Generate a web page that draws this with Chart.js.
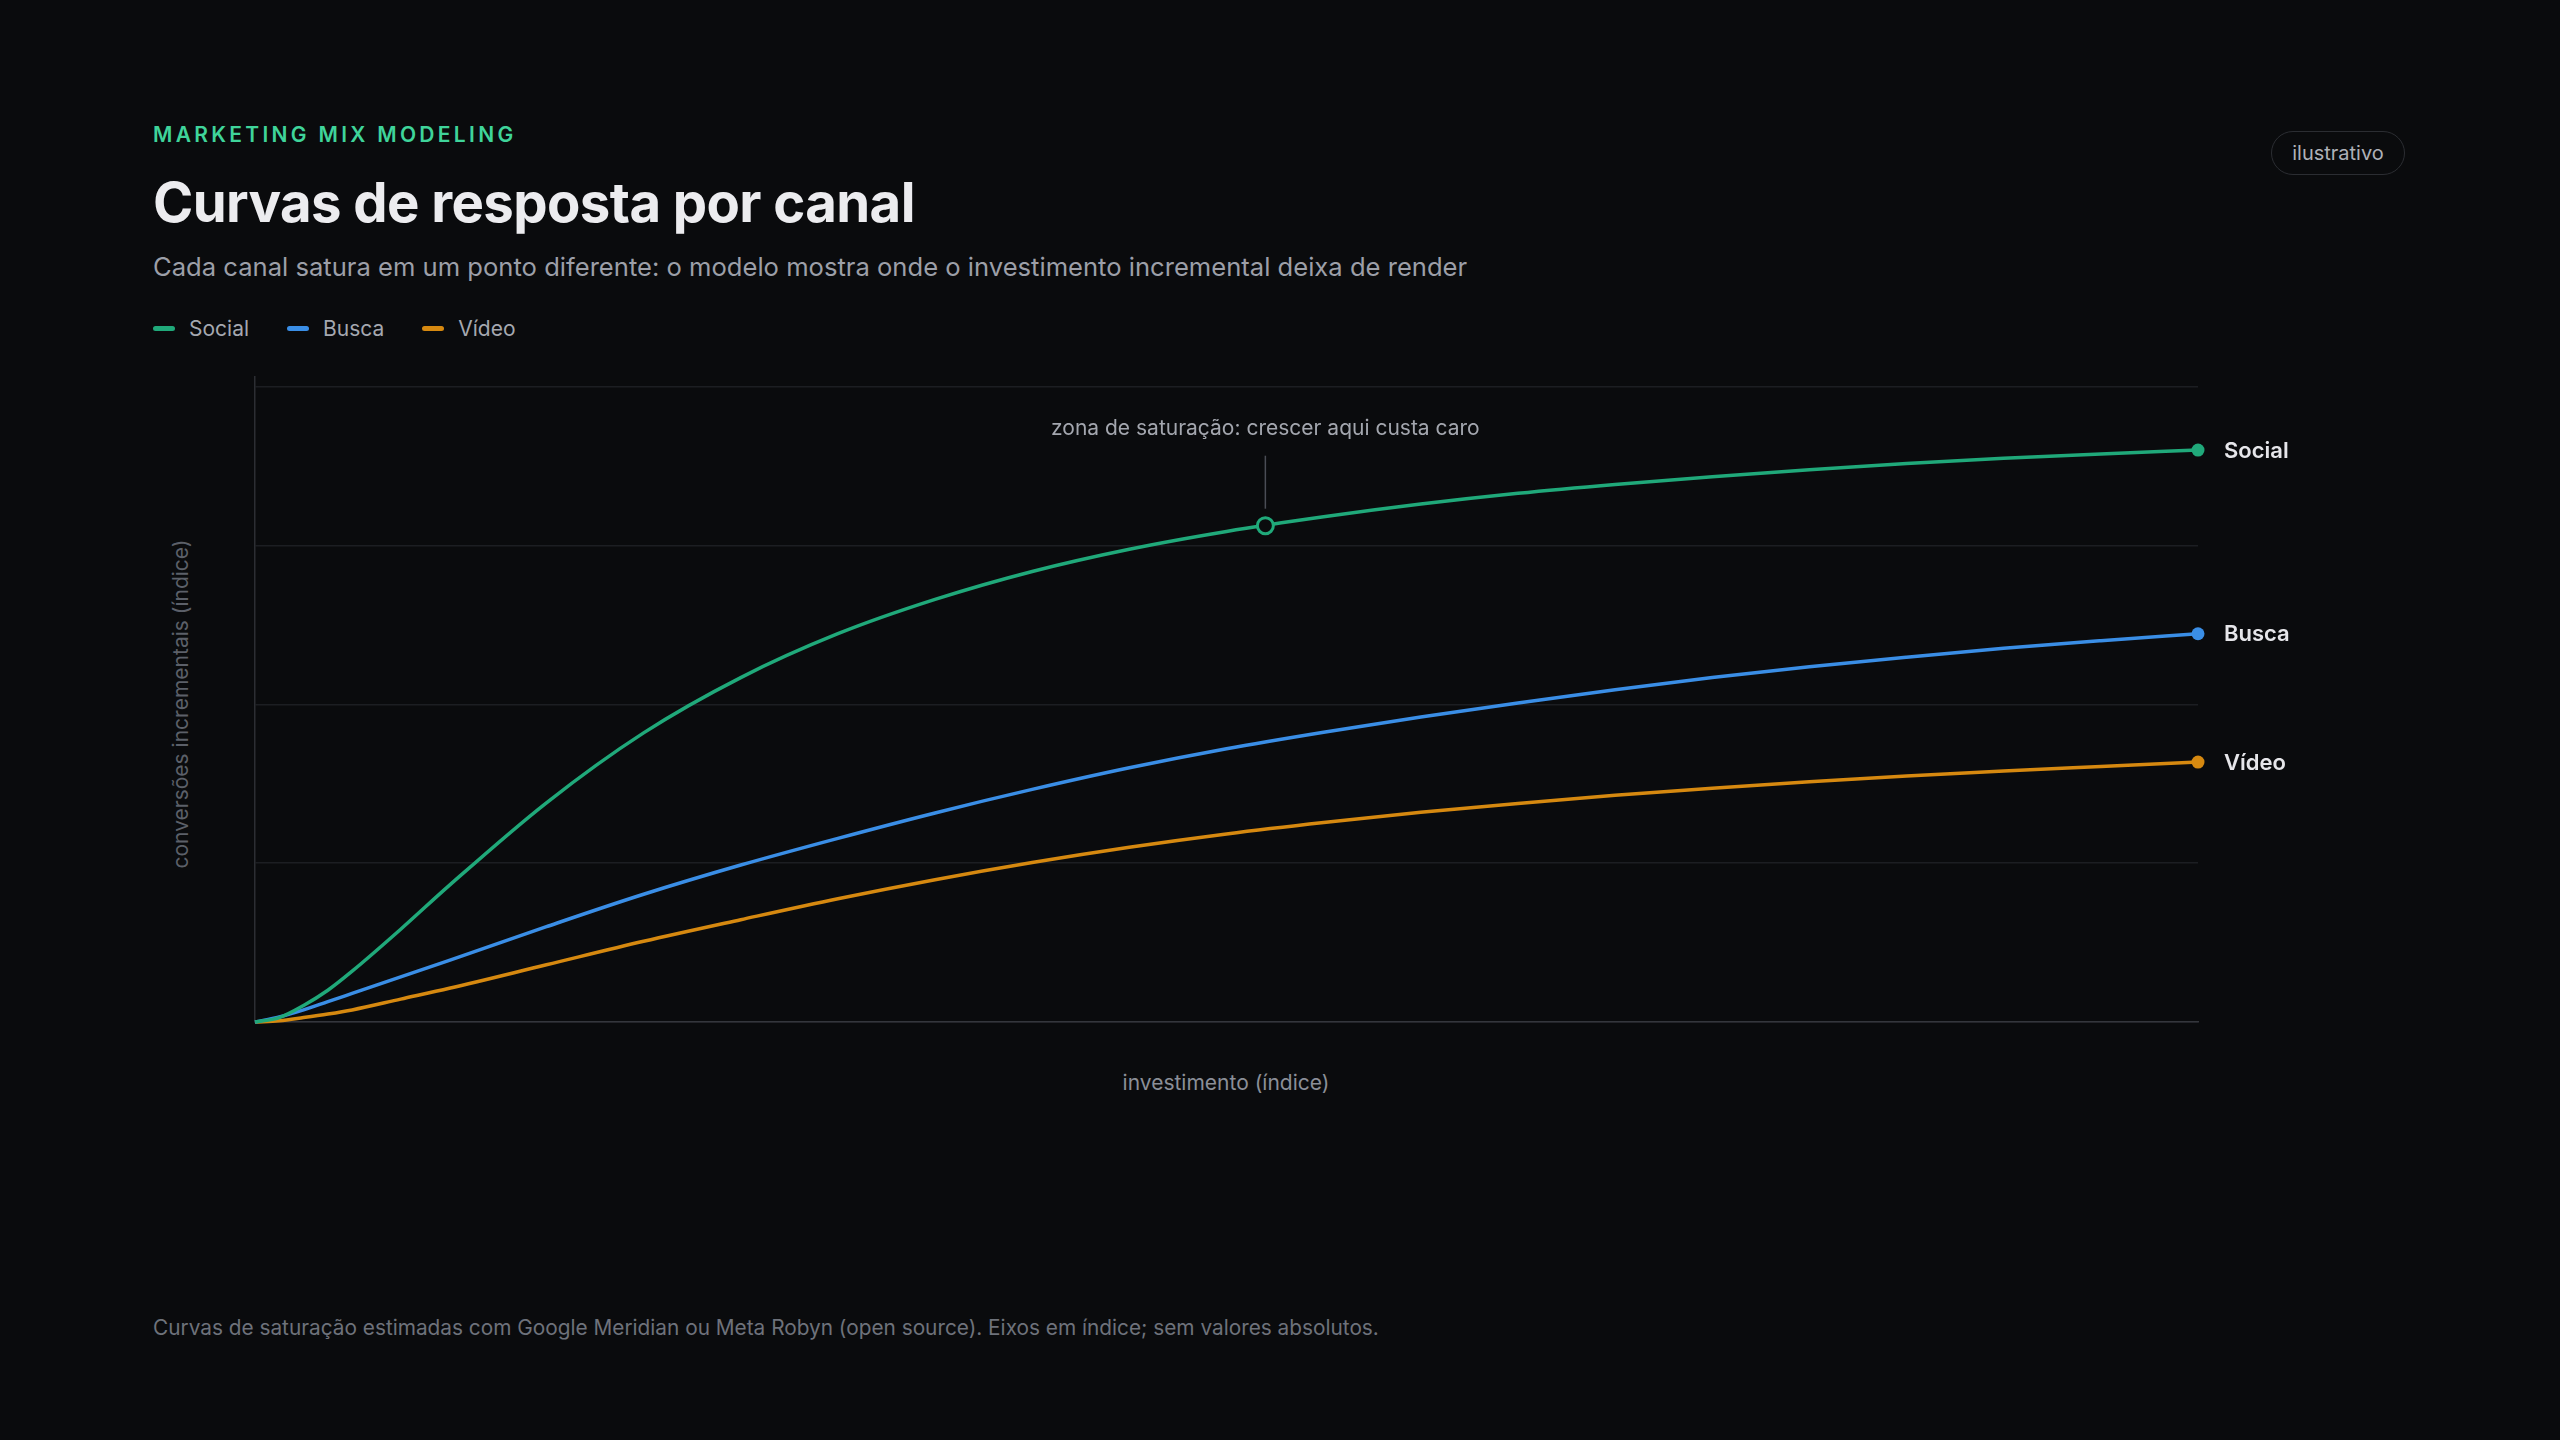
<!DOCTYPE html>
<html lang="pt-BR">
<head>
<meta charset="utf-8">
<title>Curvas de resposta por canal</title>
<script src="https://cdn.jsdelivr.net/npm/chart.js@4.4.1/dist/chart.umd.min.js"></script>
<style>
  html, body { margin: 0; padding: 0; background: #0a0b0d; }
  body { width: 2560px; height: 1440px; position: relative; overflow: hidden; font-family: Inter, "Noto Sans", sans-serif; }
  .t { position: absolute; white-space: nowrap; line-height: 1; }
  #kicker { left: 153px; top: 124px; font-size: 21px; font-weight: 600; letter-spacing: 3.3px; color: #3fd49a; }
  #title { left: 153px; top: 175px; font-size: 54.5px; font-weight: 700; letter-spacing: -0.6px; color: #ececef; }
  #sub { left: 153px; top: 254px; font-size: 25.6px; color: #9c9fa8; }
  #legend { position: absolute; left: 153px; top: 318px; display: flex; font-size: 21px; color: #a5a8b0; line-height: 1; }
  #legend span.item { display: flex; align-items: center; margin-right: 38px; }
  #legend i { display: inline-block; width: 22px; height: 5px; border-radius: 3px; margin-right: 14px; }
  #pill { position: absolute; left: 2271px; top: 131px; width: 132px; height: 42px; border: 1.5px solid #2b2d32; border-radius: 23px;
          font-size: 20px; color: #aeb1b8; display: flex; align-items: center; justify-content: center; }
  #ytitle { left: 180px; top: 704px; font-size: 21px; color: #5c6069; transform: translate(-50%, -50%) rotate(-90deg); }
  #xtitle { left: 1226px; top: 1072px; font-size: 21px; color: #8b8f98; transform: translateX(-50%); }
  #foot { left: 153px; top: 1318px; font-size: 20.8px; color: #6e727b; }
  #wrap { position: absolute; left: 0; top: 0; width: 2560px; height: 1440px; }
</style>
</head>
<body>
<div class="t" id="kicker">MARKETING MIX MODELING</div>
<div class="t" id="title">Curvas de resposta por canal</div>
<div class="t" id="sub">Cada canal satura em um ponto diferente: o modelo mostra onde o investimento incremental deixa de render</div>
<div id="legend">
  <span class="item"><i style="background:#20a97a"></i>Social</span>
  <span class="item"><i style="background:#3a8ee6"></i>Busca</span>
  <span class="item"><i style="background:#d68910"></i>Vídeo</span>
</div>
<div id="pill">ilustrativo</div>
<div class="t" id="ytitle">conversões incrementais (índice)</div>
<div class="t" id="xtitle">investimento (índice)</div>
<div class="t" id="foot">Curvas de saturação estimadas com Google Meridian ou Meta Robyn (open source). Eixos em índice; sem valores absolutos.</div>
<div id="wrap"><canvas id="chart"></canvas></div>

<script>
// investimento (índice) 0..100
const spend = [0, 1.25, 2.5, 3.75, 5, 7.5, 10, 15, 20, 25, 30, 35, 40, 45, 50, 55, 60, 65, 70, 75, 80, 85, 90, 95, 100];

// conversões incrementais (índice)
const social = [0, 0.007, 0.026, 0.050, 0.080, 0.146, 0.215, 0.345, 0.455, 0.542, 0.611, 0.665, 0.709, 0.744, 0.772, 0.795, 0.815, 0.832, 0.846, 0.858, 0.869, 0.879, 0.887, 0.894, 0.900];
const busca  = [0, 0.008, 0.019, 0.032, 0.045, 0.071, 0.097, 0.150, 0.201, 0.247, 0.289, 0.329, 0.366, 0.400, 0.430, 0.456, 0.480, 0.502, 0.523, 0.542, 0.559, 0.574, 0.588, 0.600, 0.611];
const video  = [0, 0.002, 0.007, 0.0125, 0.019, 0.036, 0.053, 0.090, 0.127, 0.161, 0.194, 0.224, 0.251, 0.275, 0.296, 0.314, 0.330, 0.344, 0.357, 0.368, 0.378, 0.387, 0.395, 0.402, 0.409];

const channels = ['Social', 'Busca', 'Vídeo'];
const colors = ['#20a97a', '#3a8ee6', '#d68910'];

// ponto da anotação (zona de saturação)
const satX = 52;
const satY = 0.781;
const satLabel = 'zona de saturação: crescer aqui custa caro';

const yTicks = [0, 0.25, 0.5, 0.75, 1];
const BG = '#0a0b0d';

function toPoints(ys) {
  return spend.map((x, i) => ({ x: x, y: ys[i] }));
}

function lineSet(label, ys, color) {
  return {
    label: label,
    data: toPoints(ys),
    borderColor: color,
    backgroundColor: color,
    borderWidth: 3.5,
    cubicInterpolationMode: 'monotone',
    pointRadius: ctx => ctx.dataIndex === spend.length - 1 ? 6.5 : 0,
    pointBorderWidth: 0,
    pointHoverRadius: 0,
    fill: false,
    clip: false,
    order: 2
  };
}

const endLabels = {
  id: 'endLabels',
  afterDatasetsDraw(chart) {
    const ctx = chart.ctx;
    ctx.save();
    // rótulos no fim de cada curva
    ctx.font = '600 22px Inter, "Noto Sans", sans-serif';
    ctx.fillStyle = '#e6e6ea';
    ctx.textBaseline = 'middle';
    ctx.textAlign = 'left';
    for (let d = 0; d < 3; d++) {
      const pts = chart.getDatasetMeta(d + 1).data;
      const p = pts[pts.length - 1];
      ctx.fillText(channels[d], p.x + 26, p.y + 1);
    }
    // anotação
    const m = chart.getDatasetMeta(0).data[0];
    ctx.strokeStyle = '#4a4d55';
    ctx.lineWidth = 1.5;
    ctx.beginPath();
    ctx.moveTo(m.x, m.y - 17);
    ctx.lineTo(m.x, m.y - 70);
    ctx.stroke();
    ctx.font = '400 21px Inter, "Noto Sans", sans-serif';
    ctx.fillStyle = '#a3a6ae';
    ctx.textAlign = 'center';
    ctx.fillText(satLabel, m.x, m.y - 97);
    ctx.restore();
  }
};

new Chart(document.getElementById('chart').getContext('2d'), {
  type: 'line',
  data: {
    datasets: [
      {
        label: 'saturação',
        data: [{ x: satX, y: satY }],
        showLine: false,
        pointRadius: 8,
        pointBorderWidth: 3,
        pointBorderColor: colors[0],
        pointBackgroundColor: BG,
        pointHoverRadius: 0,
        clip: false,
        order: 0
      },
      lineSet(channels[0], social, colors[0]),
      lineSet(channels[1], busca, colors[1]),
      lineSet(channels[2], video, colors[2])
    ]
  },
  options: {
    responsive: true,
    maintainAspectRatio: false,
    animation: false,
    events: [],
    layout: { padding: { left: 255, right: 362, top: 377, bottom: 418 } },
    plugins: { legend: { display: false }, tooltip: { enabled: false } },
    scales: {
      x: {
        type: 'linear',
        min: 0,
        max: 100,
        ticks: { display: false },
        grid: { display: false, drawTicks: false },
        border: { display: true, color: '#34363c', width: 1.5 },
        title: { display: false }
      },
      y: {
        min: 0,
        max: 1.015,
        afterBuildTicks: scale => { scale.ticks = yTicks.map(v => ({ value: v })); },
        ticks: { display: false },
        grid: { color: '#1c1e22', lineWidth: 1.5, drawTicks: false },
        border: { display: true, color: '#2c2e33', width: 1.5 },
        title: { display: false }
      }
    }
  },
  plugins: [endLabels]
});
</script>
</body>
</html>
